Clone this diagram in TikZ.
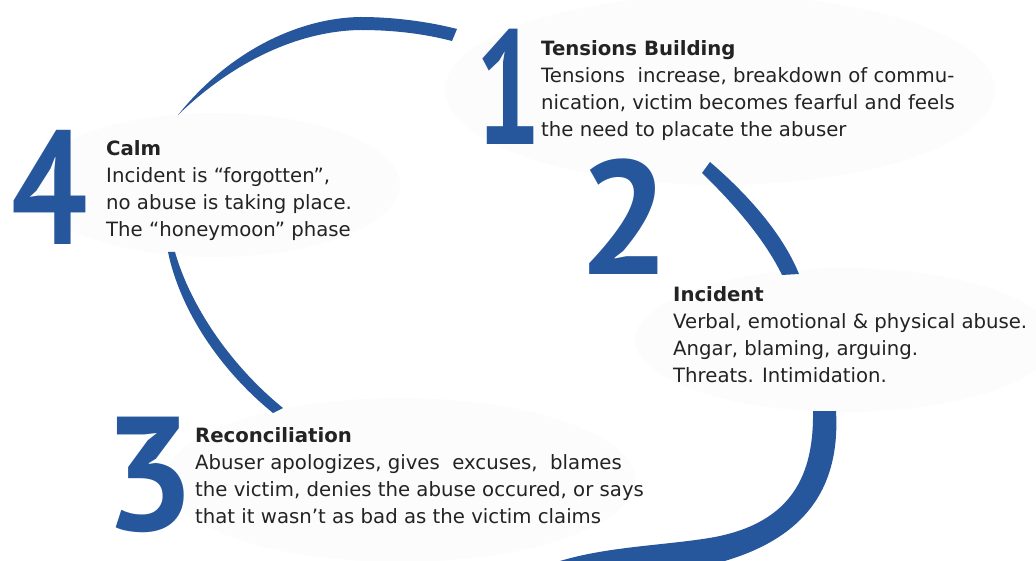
\documentclass[tikz,border=0pt]{standalone}
\usepackage{fontspec}
\setmainfont{DejaVu Sans}
\newfontfamily\numfont{PT Sans}
\definecolor{cycblue}{RGB}{38,86,156}
\definecolor{txtcol}{RGB}{35,35,35}
\definecolor{glow}{RGB}{252,252,252}
\tikzset{
  arcband/.style={fill=cycblue, draw=none},
  glowell/.style={fill=glow, draw=none},
  bignum/.style={anchor=base, inner sep=0pt, text=cycblue, font=\numfont\bfseries\fontsize{162}{162}\selectfont},
  phase/.style={anchor=base west, inner sep=0pt, align=left, text=txtcol, font=\fontsize{19.7}{27}\selectfont},
}
\begin{document}
\begin{tikzpicture}[x=1pt,y=-1pt]
\path[use as bounding box] (0,0) rectangle (1036,561);
\clip (0,0) rectangle (1036,561);
% faint glows
\path[glowell] (720,90) ellipse [x radius=275, y radius=95];
\path[glowell] (845,340) ellipse [x radius=210, y radius=72];
\path[glowell] (400,480) ellipse [x radius=235, y radius=82];
\path[glowell] (215,185) ellipse [x radius=185, y radius=72];
% arcs
\path[arcband] (178,115) .. controls (230,50) and (300,18) .. (360,17)
   .. controls (395,17) and (430,22) .. (457,29) -- (452,41)
   .. controls (425,34) and (395,30) .. (360,30)
   .. controls (300,31) and (235,60) .. (178,115) -- cycle;
\path[arcband] (702,173) .. controls (735,205) and (765,240) .. (782,275) -- (799,274)
   .. controls (782,232) and (745,192) .. (710,162) -- cycle;
\path[arcband] (813,411) .. controls (814,475) and (792,522) .. (715,537)
   .. controls (665,546) and (600,546) .. (548,565) -- (650,575)
   .. controls (775,562) and (842,515) .. (836,411) -- cycle;
\path[arcband] (168,252) .. controls (180,310) and (220,370) .. (273,413) -- (283,408)
   .. controls (230,365) and (190,305) .. (175,252) -- cycle;
% numbers
\node[bignum, xscale=0.72] (n1) at (509,145) {1};
\node[bignum] (n2) at (624,275) {2};
\node[bignum] (n3) at (149,530) {3};
\node[bignum, xscale=0.83] (n4) at (50,245) {4};
% texts (anchored at the baseline of the last line)
\node[phase] (t1) at (541,137) {\textbf{Tensions Building}\\
Tensions\ \ increase, breakdown of commu-\\
nication, victim becomes fearful and feels\\
the need to placate the abuser};
\node[phase] (t4) at (106,237) {\textbf{Calm}\\
Incident is “forgotten”,\\
no abuse is taking place.\\
The “honeymoon” phase};
\node[phase] (t2) at (673,382) {\textbf{Incident}\\
Verbal, emotional \& physical abuse.\\
Angar, blaming, arguing.\\
Threats. Intimidation.};
\node[phase] (t3) at (195,523) {\textbf{Reconciliation}\\
Abuser apologizes, gives\ \ excuses,\ \ blames\\
the victim, denies the abuse occured, or says\\
that it wasn’t as bad as the victim claims};
\end{tikzpicture}
\end{document}
